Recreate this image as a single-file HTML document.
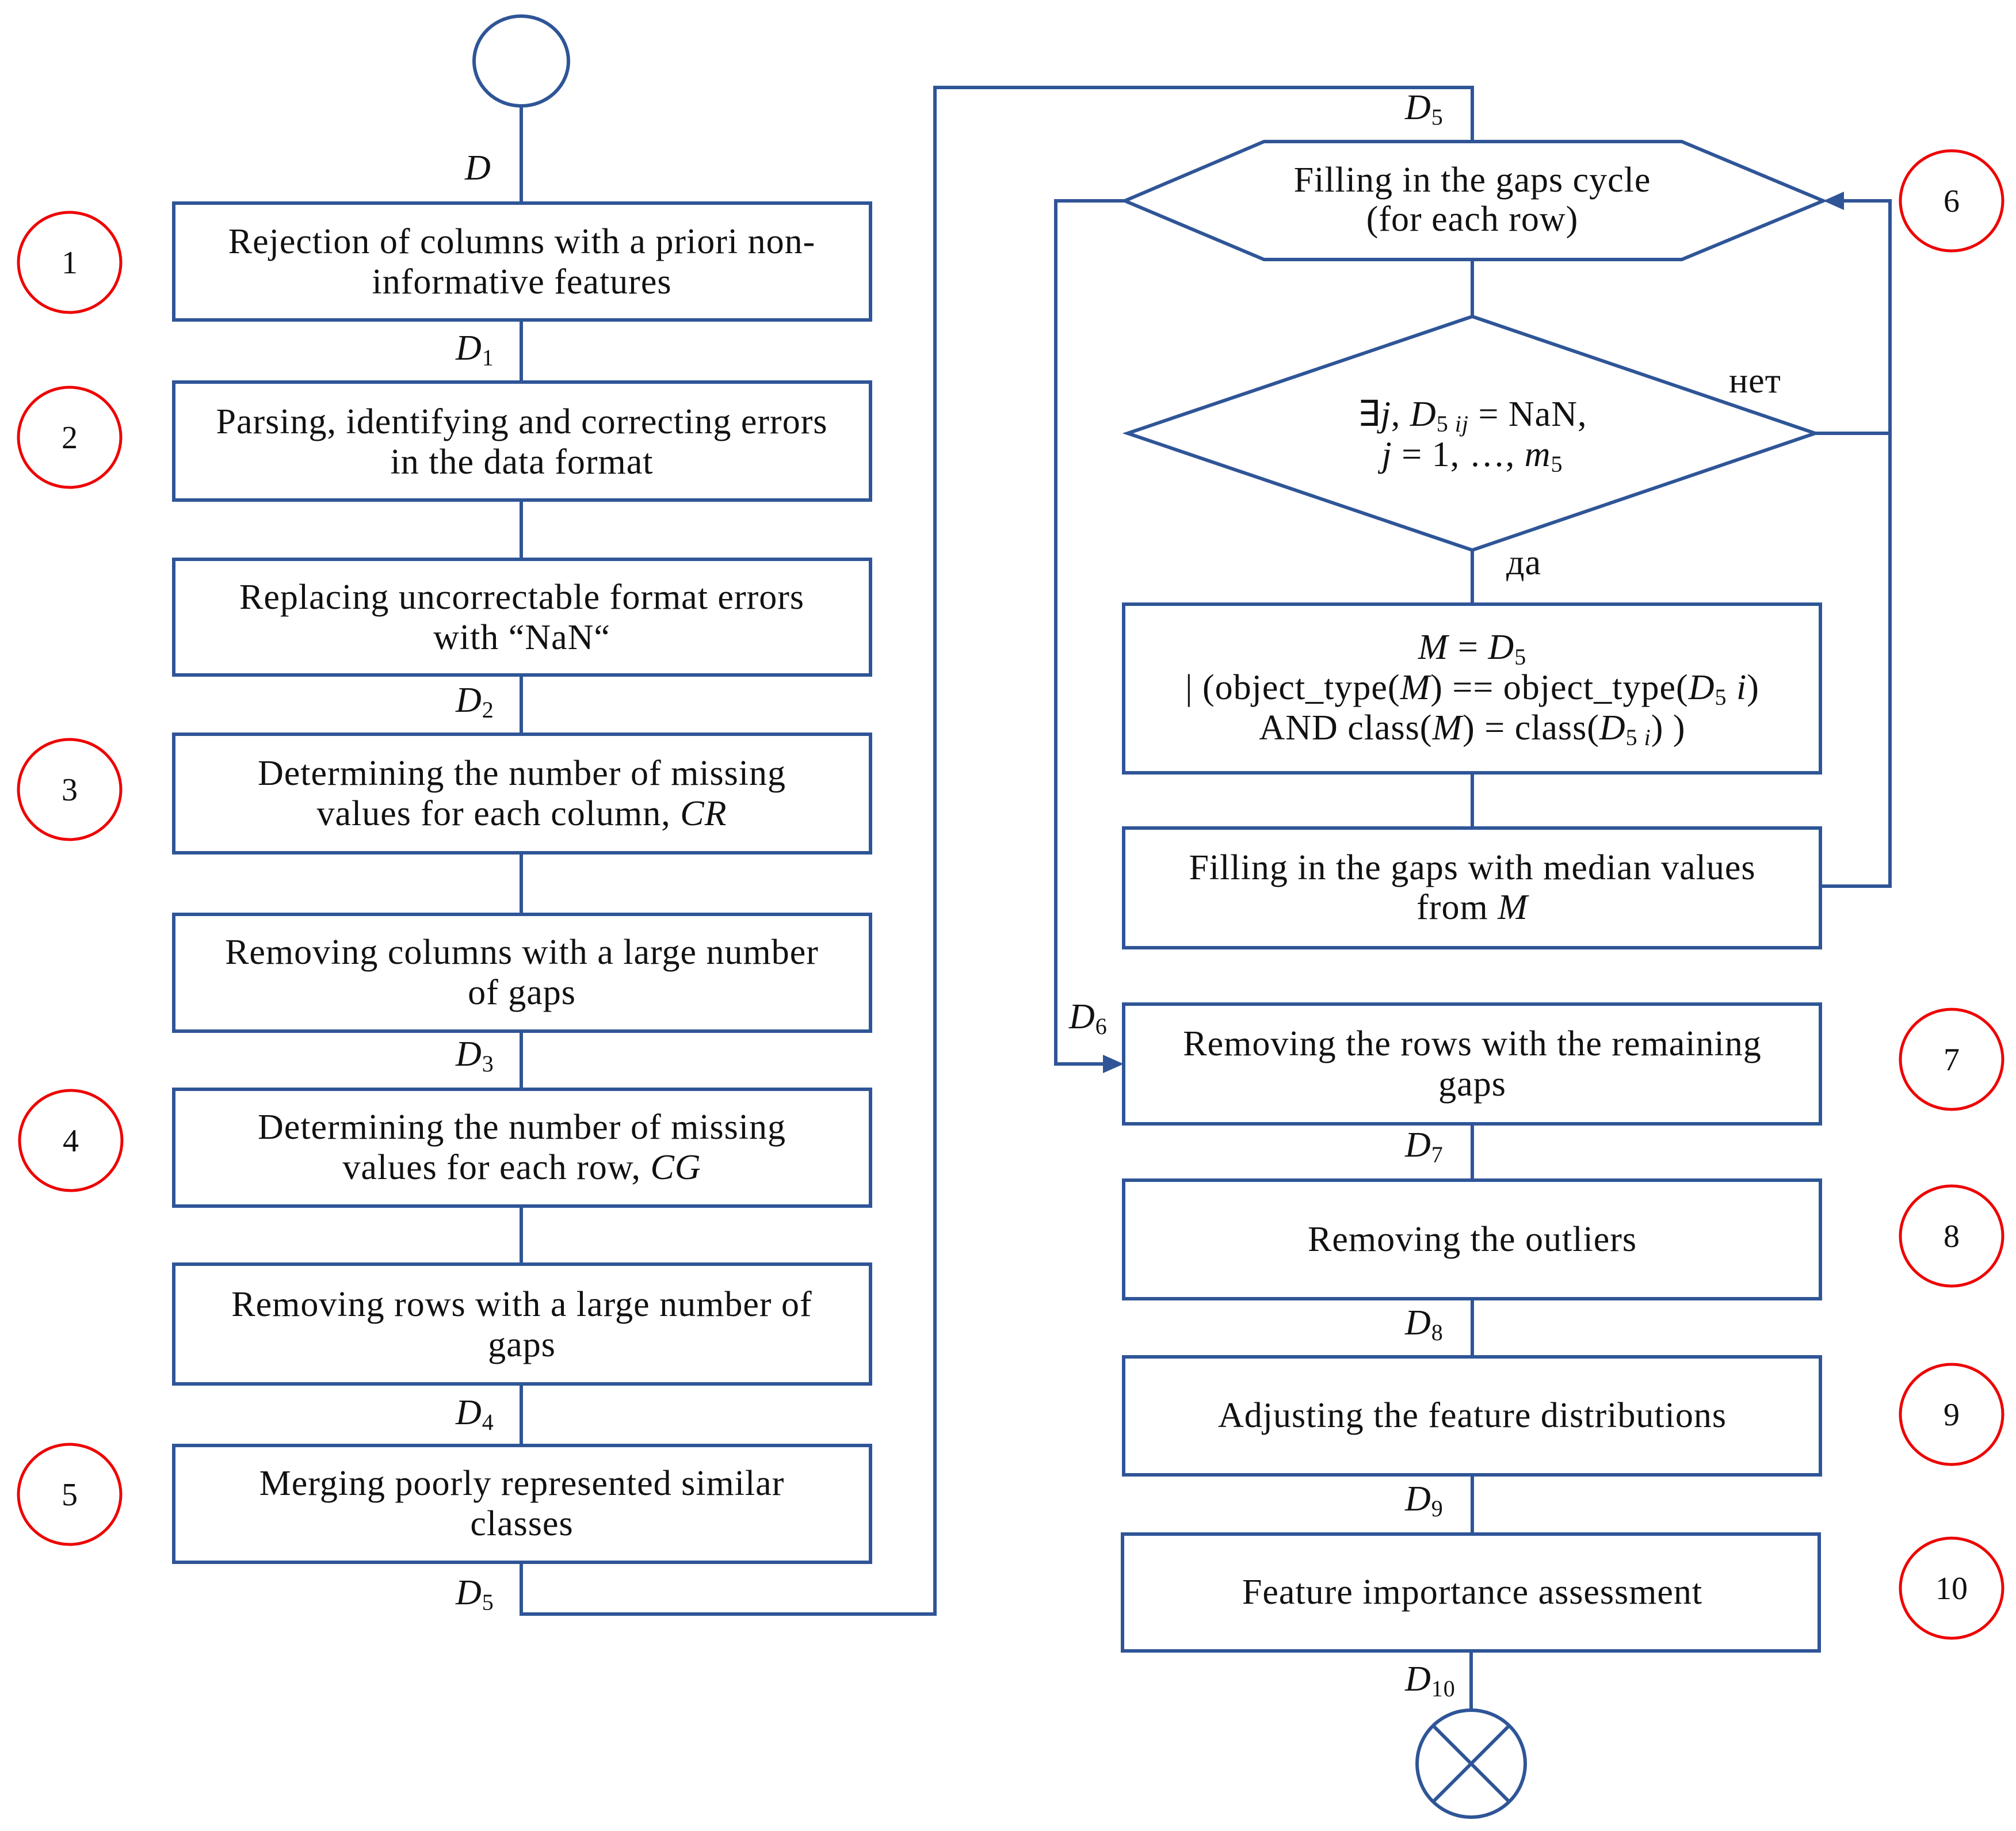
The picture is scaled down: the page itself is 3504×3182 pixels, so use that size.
<!DOCTYPE html>
<html><head><meta charset="utf-8"><style>
html,body{margin:0;padding:0;background:#fff;}
svg{display:block;}
text{font-family:"Liberation Serif",serif;font-size:62px;letter-spacing:1px;fill:#111;}
.lab{font-style:italic;font-size:58px;letter-spacing:0;}
.sub{font-size:40px;font-style:normal;}
.num{font-family:"Liberation Serif",serif;font-size:56px;letter-spacing:0;}
</style></head><body>
<svg width="3504" height="3182" viewBox="0 0 3504 3182" xmlns="http://www.w3.org/2000/svg">
<g fill="none" stroke="#2f5597" stroke-width="6">
<ellipse cx="906" cy="106" rx="82" ry="78"/>
<line x1="906" y1="184" x2="906" y2="353"/>
<rect x="302" y="353" width="1211" height="203"/>
<line x1="906" y1="556" x2="906" y2="664"/>
<rect x="302" y="664" width="1211" height="205"/>
<line x1="906" y1="869" x2="906" y2="972"/>
<rect x="302" y="972" width="1211" height="201"/>
<line x1="906" y1="1173" x2="906" y2="1276"/>
<rect x="302" y="1276" width="1211" height="206"/>
<line x1="906" y1="1482" x2="906" y2="1589"/>
<rect x="302" y="1589" width="1211" height="203"/>
<line x1="906" y1="1792" x2="906" y2="1893"/>
<rect x="302" y="1893" width="1211" height="203"/>
<line x1="906" y1="2096" x2="906" y2="2197"/>
<rect x="302" y="2197" width="1211" height="208"/>
<line x1="906" y1="2405" x2="906" y2="2512"/>
<rect x="302" y="2512" width="1211" height="203"/>
<polyline points="906,2715 906,2805 1625,2805 1625,152 2559,152 2559,246"/>
<polygon points="1955,349 2197,246 2923,246 3169,349 2923,451 2197,451"/>
<line x1="2559" y1="451" x2="2559" y2="550"/>
<polygon points="2559,550 3155,753 2559,956 1960,753"/>
<polyline points="3155,753 3285,753"/>
<polyline points="3164,1540 3285,1540 3285,349 3190,349"/>
<line x1="2559" y1="956" x2="2559" y2="1050"/>
<rect x="1953" y="1050" width="1211" height="293"/>
<line x1="2559" y1="1343" x2="2559" y2="1439"/>
<rect x="1953" y="1439" width="1211" height="208"/>
<polyline points="1955,349 1835,349 1835,1849 1920,1849"/>
<rect x="1953" y="1745" width="1211" height="208"/>
<line x1="2559" y1="1953" x2="2559" y2="2051"/>
<rect x="1953" y="2051" width="1211" height="206"/>
<line x1="2559" y1="2257" x2="2559" y2="2358"/>
<rect x="1953" y="2358" width="1211" height="205"/>
<line x1="2559" y1="2563" x2="2559" y2="2666"/>
<rect x="1951" y="2666" width="1211" height="203"/>
<line x1="2557" y1="2869" x2="2557" y2="2971"/>
<ellipse cx="2557" cy="3065" rx="94" ry="93"/>
<line x1="2490" y1="2998" x2="2624" y2="3132"/>
<line x1="2624" y1="2998" x2="2490" y2="3132"/>
</g>
<polygon points="3169,349 3205,333 3205,365" fill="#2f5597"/>
<polygon points="1953,1849 1917,1833 1917,1865" fill="#2f5597"/>
<g fill="none" stroke="#e00" stroke-width="5">
<ellipse cx="121" cy="456" rx="89" ry="87"/>
<ellipse cx="121" cy="760" rx="89" ry="87"/>
<ellipse cx="121" cy="1372" rx="89" ry="87"/>
<ellipse cx="123" cy="1982" rx="89" ry="87"/>
<ellipse cx="121" cy="2597" rx="89" ry="87"/>
<ellipse cx="3392" cy="349" rx="89" ry="87"/>
<ellipse cx="3392" cy="1841" rx="89" ry="87"/>
<ellipse cx="3392" cy="2148" rx="89" ry="87"/>
<ellipse cx="3392" cy="2458" rx="89" ry="87"/>
<ellipse cx="3392" cy="2760" rx="89" ry="87"/>
</g>
<g text-anchor="middle">
<text x="121" y="475" class="num">1</text>
<text x="121" y="779" class="num">2</text>
<text x="121" y="1391" class="num">3</text>
<text x="123" y="2001" class="num">4</text>
<text x="121" y="2616" class="num">5</text>
<text x="3392" y="368" class="num">6</text>
<text x="3392" y="1860" class="num">7</text>
<text x="3392" y="2167" class="num">8</text>
<text x="3392" y="2477" class="num">9</text>
<text x="3392" y="2779" class="num">10</text>
</g>
<g text-anchor="middle">
<text x="907" y="440">Rejection of columns with a priori non-</text>
<text x="907" y="510">informative features</text>
<text x="907" y="753">Parsing, identifying and correcting errors</text>
<text x="907" y="823">in the data format</text>
<text x="907" y="1058">Replacing uncorrectable format errors</text>
<text x="907" y="1128">with “NaN“</text>
<text x="907" y="1364">Determining the number of missing</text>
<text x="907" y="1434">values for each column, <tspan font-style="italic">CR</tspan></text>
<text x="907" y="1675">Removing columns with a large number</text>
<text x="907" y="1745">of gaps</text>
<text x="907" y="1979">Determining the number of missing</text>
<text x="907" y="2049">values for each row, <tspan font-style="italic">CG</tspan></text>
<text x="907" y="2287">Removing rows with a large number of</text>
<text x="907" y="2357">gaps</text>
<text x="907" y="2598">Merging poorly represented similar</text>
<text x="907" y="2668">classes</text>
<text x="2559" y="333">Filling in the gaps cycle</text>
<text x="2559" y="401">(for each row)</text>
<text x="2559" y="740">∃<tspan font-style="italic">j</tspan>, <tspan font-style="italic">D</tspan><tspan font-size="40" dy="10">5 <tspan font-style="italic">ij</tspan></tspan><tspan dy="-10"> = NaN,</tspan></text>
<text x="2559" y="810"><tspan font-style="italic">j</tspan> = 1, …, <tspan font-style="italic">m</tspan><tspan font-size="40" dy="10">5</tspan></text>
<text x="2559" y="1145"><tspan font-style="italic">M</tspan> = <tspan font-style="italic">D</tspan><tspan font-size="40" dy="10">5</tspan></text>
<text x="2559" y="1215">| (object_type(<tspan font-style="italic">M</tspan>) == object_type(<tspan font-style="italic">D</tspan><tspan font-size="40" dy="10">5</tspan><tspan dy="-10" font-style="italic"> i</tspan>)</text>
<text x="2559" y="1285">AND class(<tspan font-style="italic">M</tspan>) = class(<tspan font-style="italic">D</tspan><tspan font-size="40" dy="10">5 <tspan font-style="italic">i</tspan></tspan><tspan dy="-10">) )</tspan></text>
<text x="2559" y="1528">Filling in the gaps with median values</text>
<text x="2559" y="1597">from <tspan font-style="italic">M</tspan></text>
<text x="2559" y="1834">Removing the rows with the remaining</text>
<text x="2559" y="1904">gaps</text>
<text x="2559" y="2174">Removing the outliers</text>
<text x="2559" y="2480">Adjusting the feature distributions</text>
<text x="2559" y="2787">Feature importance assessment</text>
</g>
<text x="3005" y="682" font-size="50">нет</text>
<text x="2618" y="998" font-size="50">да</text>
<g class="lab">
<text x="808" y="312">D</text>
<text x="792" y="625">D<tspan class="sub" dy="10">1</tspan></text>
<text x="792" y="1237">D<tspan class="sub" dy="10">2</tspan></text>
<text x="792" y="1852">D<tspan class="sub" dy="10">3</tspan></text>
<text x="792" y="2475">D<tspan class="sub" dy="10">4</tspan></text>
<text x="792" y="2788">D<tspan class="sub" dy="10">5</tspan></text>
<text x="2442" y="207">D<tspan class="sub" dy="10">5</tspan></text>
<text x="1858" y="1787">D<tspan class="sub" dy="10">6</tspan></text>
<text x="2442" y="2010">D<tspan class="sub" dy="10">7</tspan></text>
<text x="2442" y="2319">D<tspan class="sub" dy="10">8</tspan></text>
<text x="2442" y="2625">D<tspan class="sub" dy="10">9</tspan></text>
<text x="2442" y="2938">D<tspan class="sub" dy="10">10</tspan></text>
</g>
</svg>
</body></html>
